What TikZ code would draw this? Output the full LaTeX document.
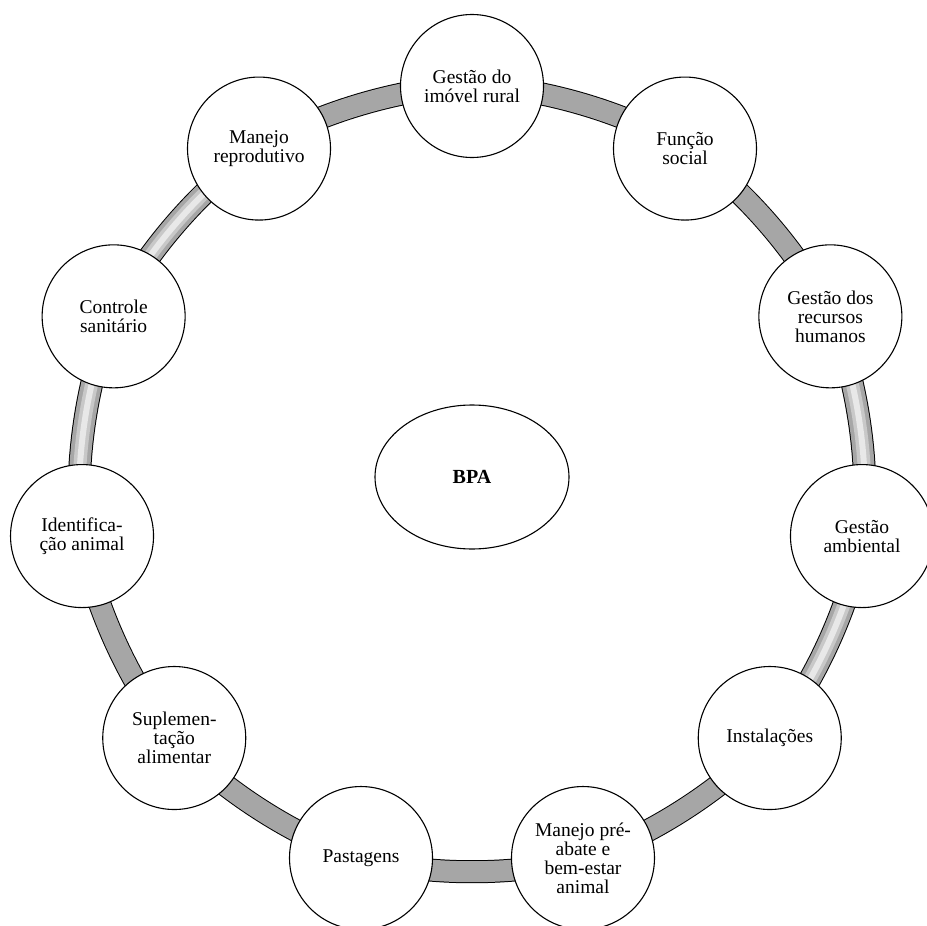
\documentclass[tikz,border=0pt]{standalone}
\usepackage{fontspec}
\setmainfont{Liberation Serif}
\usetikzlibrary{calc,backgrounds,shapes.geometric}
\definecolor{bandgray}{RGB}{166,166,166}
\definecolor{tubemid}{RGB}{200,200,200}
\definecolor{tubelight}{RGB}{232,232,232}
\begin{document}
\begin{tikzpicture}[x=1pt,y=1pt,
  item/.style={circle, draw=black, line width=1.1pt, fill=white, minimum size=143pt, inner sep=0pt,
    align=center, font=\fontsize{19.5}{19}\selectfont},
  hub/.style={ellipse, draw=black, line width=1.1pt, fill=white, minimum width=194pt, minimum height=144pt,
    inner sep=0pt, font=\fontsize{20}{22}\selectfont\bfseries},
  bandsolid/.style={line width=23pt, draw=black, bend left=16.36, looseness=0.75,
    postaction={draw=bandgray, line width=21pt}},
  bandtube/.style={line width=23pt, draw=black, bend left=16.36, looseness=0.75,
    postaction={draw=bandgray, line width=21pt},
    postaction={draw=tubemid, line width=13pt},
    postaction={draw=tubelight, line width=6pt}}
]
\useasboundingbox (0,0) rectangle (927,-926);
\coordinate (O) at (472,-480);
\node[hub] (bpa) at (472,-477) {BPA};
\node[item] (n0) at ($(O)+(90:394)$) {Gestão do\\imóvel rural};
\node[item] (n1) at ($(O)+(57.273:394)$) {Função\\social};
\node[item] (n2) at ($(O)+(24.545:394)$) {Gestão dos\\recursos\\humanos};
\node[item] (n3) at ($(O)+(-8.182:394)$) {Gestão\\ambiental};
\node[item] (n4) at ($(O)+(-40.909:394)$) {Instalações};
\node[item] (n5) at ($(O)+(-73.636:394)$) {Manejo pré-\\abate e\\bem-estar\\animal};
\node[item] (n6) at ($(O)+(-106.364:394)$) {Pastagens};
\node[item] (n7) at ($(O)+(-139.091:394)$) {Suplemen-\\tação\\alimentar};
\node[item] (n8) at ($(O)+(-171.818:394)$) {Identifica-\\ção animal};
\node[item] (n9) at ($(O)+(155.455:394)$) {Controle\\sanitário};
\node[item] (n10) at ($(O)+(122.727:394)$) {Manejo\\reprodutivo};
\begin{scope}[on background layer]
  \draw[bandsolid] (n0.center) to (n1.center);
  \draw[bandsolid] (n1.center) to (n2.center);
  \draw[bandtube]  (n2.center) to (n3.center);
  \draw[bandtube]  (n3.center) to (n4.center);
  \draw[bandsolid] (n4.center) to (n5.center);
  \draw[bandsolid] (n5.center) to (n6.center);
  \draw[bandsolid] (n6.center) to (n7.center);
  \draw[bandsolid] (n7.center) to (n8.center);
  \draw[bandtube]  (n8.center) to (n9.center);
  \draw[bandtube]  (n9.center) to (n10.center);
  \draw[bandsolid] (n10.center) to (n0.center);
\end{scope}
\end{tikzpicture}
\end{document}
